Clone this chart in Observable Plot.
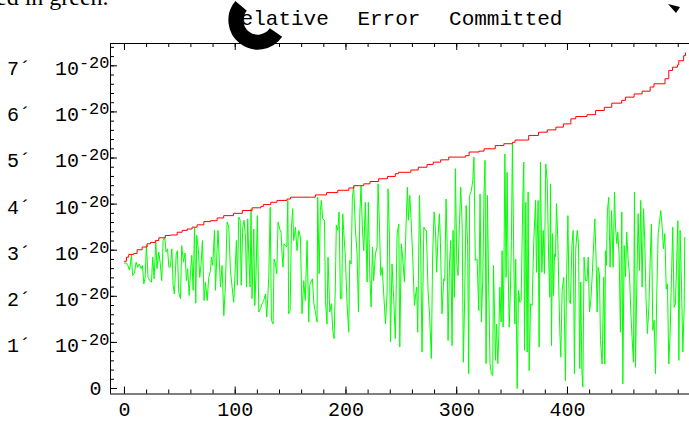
<!DOCTYPE html>
<html><head><meta charset="utf-8">
<script src="https://cdn.jsdelivr.net/npm/d3@7"></script>
<script src="https://cdn.jsdelivr.net/npm/@observablehq/plot@0.6"></script>
<style>
html,body{margin:0;padding:0;background:#fff;overflow:hidden}
#wrap{position:relative;width:689px;height:427px;overflow:hidden;background:#fff}
#wrap > svg{position:absolute;left:0;top:0}
.title{position:absolute;left:228px;top:8px;font:21px "Liberation Mono",monospace;word-spacing:16px;white-space:pre;color:#000}
.note{position:absolute;left:-4px;top:-16px;font:24px "Liberation Serif",serif;white-space:pre;color:#000}
.deco{position:absolute;left:0;top:0;pointer-events:none}
</style></head><body><div id="wrap"></div>
<script>
const SCALE = 1e-20;
const titleText = "Relative Error Committed";
const noteText = "ed in green.";
const xTicks = [0, 100, 200, 300, 400];
const yTicks = [1, 2, 3, 4, 5, 6, 7];
const yExponent = "-20";

// red bound (units of 1e-20)
const redX = [0,1.8,3.9,8.4,11.4,16.0,20.5,23.5,28.0,31.0,36.9,41.4,47.6,52.1,56.7,61.1,65.6,71.7,77.7,83.7,89.6,98.5,106.4,115.3,123.2,125.4,132.1,137.7,146.7,150.0,169.1,172.4,182.5,192.6,202.6,207.1,216.1,221.7,229.5,237.4,244.6,247.4,258.6,265.3,273.2,278.8,285.5,292.8,307.9,311.2,320.2,324.7,334.8,342.6,350.4,352.7,365.0,373.9,381.8,389.6,396.3,403.1,407.5,417.6,425.4,433.3,440.0,449.0,452.3,460.2,467.4,474.7,478.1,488.1,491.5,494.9,499.3,500.5,504.9,506.6];
const redV = [2.76,2.85,2.91,2.93,3.01,3.07,3.14,3.17,3.21,3.27,3.32,3.33,3.39,3.43,3.46,3.50,3.55,3.62,3.64,3.70,3.75,3.80,3.86,3.92,3.95,3.99,4.04,4.08,4.11,4.15,4.15,4.20,4.25,4.30,4.35,4.40,4.44,4.49,4.55,4.60,4.66,4.69,4.74,4.80,4.86,4.91,4.96,5.02,5.05,5.13,5.15,5.20,5.27,5.31,5.34,5.39,5.49,5.56,5.61,5.67,5.74,5.85,5.90,5.94,6.03,6.10,6.19,6.25,6.32,6.39,6.45,6.54,6.61,6.72,6.90,6.97,7.02,7.11,7.22,7.28];

// green error (units of 1e-20)
const greenX = [0,1.8,3.0,4.5,5.4,6.3,7.3,9.0,10.5,12.0,13.4,15.0,16.2,17.5,18.7,19.8,21.3,22.8,24.4,25.5,26.8,28.3,29.4,31.0,32.2,33.7,34.9,36.4,37.6,38.9,40.1,41.5,42.8,44.0,45.1,46.7,47.8,49.0,50.6,51.7,53.3,54.7,55.9,57.1,58.4,59.6,60.8,62.0,63.3,64.4,65.3,66.8,68.0,69.2,70.4,71.9,73.1,74.7,76.1,77.7,
78.5,79.7,81.3,82.2,83.6,84.5,86.7,88.1,89.7,91.1,92.7,94.2,95.7,97.2,98.7,100.2,101.1,102.0,103.2,104.5,105.4,106.8,108.0,109.3,110.2,111.3,112.2,113.4,114.3,115.2,116.8,117.7,118.9,120.0,121.3,122.8,124.3,125.7,127.3,128.5,130.3,131.6,132.7,134.2,135.1,136.4,137.5,138.7,140.2,141.4,142.3,143.2,144.1,145.3,146.6,147.5,148.3,149.6,150.8,151.9,152.8,154.4,155.8,157.4,158.9,
160.3,161.9,163.3,164.9,166.4,167.3,168.5,169.7,171.0,172.4,173.9,174.5,175.8,176.9,177.8,179.0,180.6,181.5,182.9,183.8,185.4,186.9,188.1,189.3,190.4,191.3,192.6,193.8,195.0,196.2,197.1,197.9,199.5,201.0,202.5,203.4,204.7,205.8,207.0,208.6,210.0,211.3,212.5,213.6,214.8,216.1,217.5,219.1,220.2,221.5,222.7,223.9,225.0,226.6,228.1,229.0,230.2,231.4,232.7,234.1,235.7,237.1,238.0,239.3,240.2,241.6,243.2,244.6,246.2,247.7,
248.6,250.0,251.2,252.8,254.3,255.5,256.4,257.6,258.7,260.3,261.8,263.0,263.9,264.8,266.4,267.5,268.7,270.3,271.7,272.6,274.1,275.6,277.1,278.3,279.6,280.8,281.9,283.1,284.4,285.3,286.7,288.3,289.2,290.4,291.3,292.2,293.5,294.6,295.8,296.7,297.9,298.8,300.1,301.2,302.4,303.6,304.9,306.0,307.2,308.5,309.9,310.8,311.7,313.3,314.5,315.6,316.8,318.4,319.9,321.1,322.3,323.5,324.7,325.6,326.5,327.7,328.9,330.1,331.3,
332.5,333.2,334.1,335.0,335.9,337.1,338.0,338.9,340.1,341.0,341.9,342.6,343.5,344.6,345.5,346.4,347.4,348.5,349.4,350.3,351.6,352.5,353.3,354.6,355.8,357.0,358.2,359.7,360.6,361.2,362.4,363.6,364.5,365.4,366.7,368.1,369.6,371.2,372.0,373.5,374.4,375.6,376.9,378.1,379.2,380.4,381.7,383.1,384.1,384.7,385.6,386.5,387.4,388.3,389.2,390.1,391.3,392.2,393.1,394.0,395.2,396.7,398.2,399.1,400.4,401.5,402.7,404.0,405.2,406.3,407.5,408.8,410.0,411.1,412.0,413.0,413.9,415.0,416.3,
417.7,418.7,419.9,421.1,422.3,423.8,424.7,425.9,426.8,427.7,428.9,429.8,431.3,432.8,433.7,434.3,435.2,436.1,437.3,438.5,439.8,441.2,442.5,443.4,444.6,445.5,446.7,447.8,449.1,450.0,451.2,452.4,453.5,454.8,456.0,457.2,458.4,459.6,460.5,461.4,462.6,463.8,465.0,466.2,467.4,468.7,469.8,471.0,472.2,473.5,474.7,475.8,477.1,478.3,479.5,480.6,481.9,483.1,484.3,485.5,486.7,487.9,489.2,490.3,491.5,492.7,494.0,495.1,496.3,497.5,498.4,499.7,500.6,501.7,502.9,504.2,505.4,505.9];
const greenV = [2.72,2.72,2.67,2.57,2.70,2.91,2.45,2.50,2.74,2.63,2.70,2.60,2.67,2.27,2.41,3.12,2.41,2.34,2.31,2.85,2.38,3.19,2.60,2.96,2.74,2.34,3.21,3.28,2.96,3.03,2.63,2.64,3.03,2.23,2.05,2.91,2.99,2.09,1.95,3.10,2.74,2.94,2.34,2.60,2.02,2.50,2.89,2.13,3.50,1.85,3.32,2.99,2.41,2.70,3.21,1.91,2.31,1.91,2.41,2.56,
2.85,2.67,3.43,2.13,2.99,3.43,2.20,2.67,1.58,2.20,3.61,3.50,2.56,2.20,1.87,2.70,3.21,2.24,3.72,3.65,2.24,3.50,3.65,3.28,2.20,3.68,2.92,2.20,3.90,1.95,3.46,1.80,2.56,3.75,1.66,1.73,1.84,1.91,2.05,1.55,2.41,3.93,1.48,1.40,2.81,2.70,2.49,3.61,3.46,3.39,2.92,2.63,3.14,3.10,3.07,4.08,1.62,1.69,3.50,3.90,3.21,3.50,2.99,3.43,3.28,
1.62,2.34,1.91,3.21,1.44,2.24,2.31,2.38,1.84,1.66,1.44,4.15,2.49,3.86,4.08,3.68,3.65,1.91,1.40,2.85,1.66,1.84,1.26,1.08,2.20,3.54,3.43,3.83,1.95,1.95,3.79,3.43,2.85,1.84,1.22,2.78,2.70,4.15,4.38,3.43,2.96,1.66,3.79,4.40,3.50,2.99,4.04,2.31,4.04,2.49,1.77,3.07,2.34,2.92,3.07,4.44,3.57,2.45,2.63,2.05,1.40,2.05,4.33,3.28,1.01,2.70,1.91,1.08,3.36,3.57,
0.90,3.14,2.85,2.31,3.57,4.37,3.65,4.19,3.72,2.85,1.80,2.05,2.20,1.22,4.19,2.99,0.79,3.50,3.43,3.43,2.13,1.55,0.65,2.92,3.83,3.43,2.52,3.28,3.79,3.17,1.62,2.38,2.34,4.11,3.17,1.04,2.70,3.21,0.93,3.43,1.98,4.77,2.70,2.45,3.54,4.37,3.57,0.57,1.98,3.97,3.10,0.32,4.19,4.30,4.51,5.02,2.78,2.81,1.69,4.22,1.44,2.34,4.26,4.95,0.54,4.19,2.20,0.54,0.32,
0.28,2.67,1.69,0.61,1.40,0.54,1.11,2.20,1.44,2.99,1.33,2.45,5.09,2.41,4.69,2.70,1.33,2.13,3.21,5.31,2.70,1.40,2.81,0.00,2.13,1.87,1.91,4.15,4.91,0.83,4.04,0.79,4.26,0.39,1.84,1.80,3.21,4.08,2.52,4.08,0.90,4.91,2.52,3.43,2.49,4.87,4.51,2.74,1.98,4.44,0.93,3.36,2.02,2.92,2.85,4.01,3.21,2.13,1.26,0.68,2.13,2.41,0.17,2.27,3.75,1.91,1.84,3.10,3.43,0.32,3.03,3.43,3.14,0.43,2.31,0.39,0.03,2.85,2.34,
2.34,2.85,1.66,1.91,2.42,3.21,3.68,2.78,1.66,2.63,2.49,1.04,0.53,2.42,0.53,2.99,2.67,3.86,4.15,2.63,3.86,2.63,4.26,3.50,3.14,3.39,2.85,1.22,3.83,0.10,3.10,2.42,3.39,2.78,2.49,1.66,1.08,0.57,4.26,0.46,2.23,3.79,2.56,4.08,2.20,3.90,3.21,1.91,1.19,1.76,2.78,3.57,1.26,1.48,0.32,1.98,3.36,3.61,3.86,3.50,3.03,3.36,2.16,2.27,0.53,1.19,2.49,3.50,1.76,1.84,2.56,3.64,0.61,3.43,2.34,0.79,1.76,3.28];

const red = redX.map((x, i) => ({x, y: redV[i] * SCALE}));
const green = greenX.map((x, i) => ({x, y: greenV[i] * SCALE}));

const xDomain = [-12.6, 510.2];
const yDomain = [-0.119 * SCALE, 7.484 * SCALE];
const W = 689, H = 427, mL = 110, mT = 43, mB = 33.5, mR = 0;
const fw = W - mL - mR, fh = H - mT - mB;
const xMinor = d3.range(0, 520, 20);
const yMinor = d3.range(0, 7.5, 0.2).map(v => v * SCALE);

const chart = Plot.plot({
  width: W, height: H,
  marginLeft: mL, marginTop: mT, marginBottom: mB, marginRight: mR,
  style: {fontFamily: '"Liberation Mono", monospace', fontSize: "20px", color: "#000", background: "#fff", overflow: "visible"},
  x: {domain: xDomain},
  y: {domain: yDomain},
  marks: [
    Plot.line(green, {x: "x", y: "y", stroke: "#00ff00", strokeWidth: 1}),
    Plot.line(red, {x: "x", y: "y", stroke: "#ff0000", strokeWidth: 1, curve: "step-after"}),
    Plot.ruleX([xDomain[0]], {stroke: "#000"}),
    Plot.ruleY([yDomain[0]], {stroke: "#000"}),
    Plot.ruleY([yDomain[1]], {stroke: "#000"}),
    Plot.tickX(xMinor, {x: d => d, insetTop: fh - 4, stroke: "#000"}),
    Plot.tickX(xTicks, {x: d => d, insetTop: fh - 7, stroke: "#000"}),
    Plot.tickX(xMinor, {x: d => d, insetBottom: fh - 4, stroke: "#000"}),
    Plot.tickX(xTicks, {x: d => d, insetBottom: fh - 7, stroke: "#000"}),
    Plot.tickY(yMinor, {y: d => d, insetRight: fw - 4, stroke: "#000"}),
    Plot.tickY([0, ...yTicks].map(k => k * SCALE), {y: d => d, insetRight: fw - 7, stroke: "#000"}),
    Plot.axisX({ticks: xTicks, tickSize: 0, tickPadding: 8, label: null, tickFormat: d => String(d)}),
    Plot.axisY({ticks: yTicks.map(k => k * SCALE), tickSize: 0, tickPadding: 1, dy: 3, label: null,
      tickFormat: d => `${Math.round(d / SCALE)}\u00B4  10`}),
    Plot.axisY({ticks: [0], tickSize: 0, tickPadding: 9, label: null, tickFormat: () => "0"})
  ]
});

chart.querySelectorAll('[aria-label="y-axis tick label"] text').forEach(t => {
  if (t.textContent.includes("10")) {
    const s = document.createElementNS("http://www.w3.org/2000/svg", "tspan");
    s.setAttribute("dy", "-7");
    s.setAttribute("dx", "0");
    s.setAttribute("font-size", "17");
    s.textContent = yExponent;
    t.appendChild(s);
  }
});

const wrap = document.getElementById("wrap");
wrap.appendChild(chart);

const note = document.createElement("div");
note.className = "note"; note.textContent = noteText; wrap.appendChild(note);
const title = document.createElement("div");
title.className = "title"; title.textContent = titleText; wrap.appendChild(title);

// decorative overlay artifacts seen in the screenshot
const ns = "http://www.w3.org/2000/svg";
const deco = document.createElementNS(ns, "svg");
deco.setAttribute("class", "deco"); deco.setAttribute("width", W); deco.setAttribute("height", 60);
const arc = document.createElementNS(ns, "path");
arc.setAttribute("d", "M276.0,32.6 A22,22 0 1 1 241.1,5.9");
arc.setAttribute("fill", "none"); arc.setAttribute("stroke", "#000"); arc.setAttribute("stroke-width", "15");
deco.appendChild(arc);
const tri = document.createElementNS(ns, "path");
tri.setAttribute("d", "M668,4 L680,7 L676,13 Z"); tri.setAttribute("fill", "#000");
deco.appendChild(tri);
wrap.appendChild(deco);
</script></body></html>
